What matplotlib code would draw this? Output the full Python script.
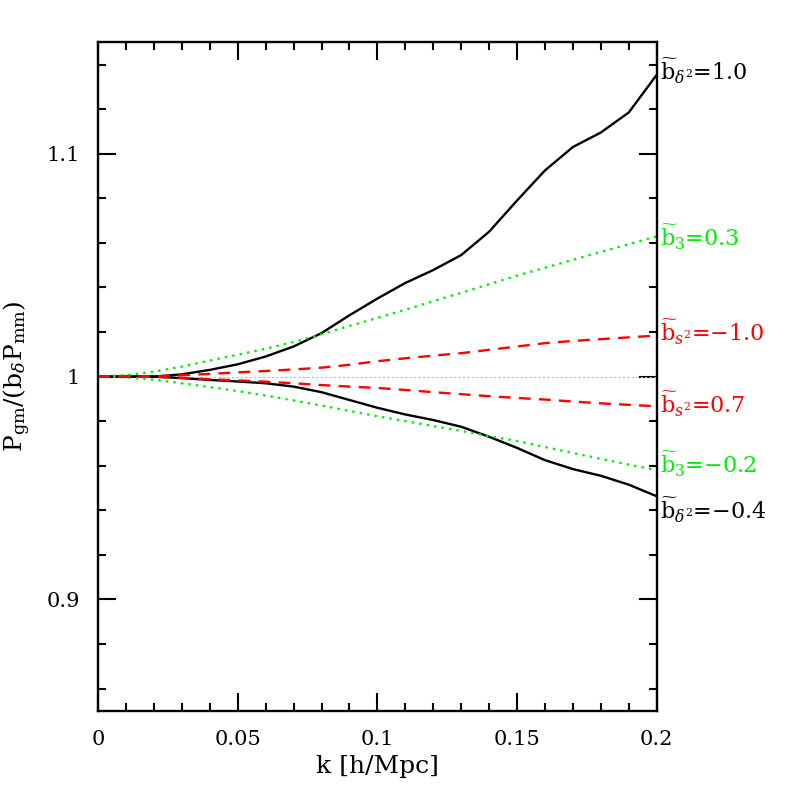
import numpy as np
import matplotlib
matplotlib.use('Agg')
import matplotlib.pyplot as plt
from matplotlib.ticker import MultipleLocator, FuncFormatter

plt.rcParams['font.family'] = 'DejaVu Serif'
plt.rcParams['mathtext.fontset'] = 'dejavuserif'

# k values and ratio curves
k = [0.0, 0.01, 0.02, 0.03, 0.04, 0.05, 0.06, 0.07, 0.08, 0.09, 0.10,
     0.11, 0.12, 0.13, 0.14, 0.15, 0.16, 0.17, 0.18, 0.19, 0.20]

bd2_hi = [1.0, 1.0, 1.0, 1.001, 1.003, 1.0055, 1.009, 1.0135, 1.0195, 1.0275, 1.035,
          1.042, 1.0478, 1.0545, 1.0650, 1.0790, 1.0925, 1.1030, 1.1095, 1.1185, 1.1354]
bd2_lo = [1.0, 1.0, 1.0, 0.9993, 0.9985, 0.9978, 0.9970, 0.9955, 0.993, 0.9895, 0.986,
          0.983, 0.9805, 0.9775, 0.973, 0.968, 0.9625, 0.9585, 0.9555, 0.9515, 0.9463]
b3_hi = [1.0, 1.0006, 1.0022, 1.0045, 1.0072, 1.0098, 1.0125, 1.0155, 1.0190, 1.0227, 1.0263,
         1.030, 1.0338, 1.0376, 1.0414, 1.0453, 1.0488, 1.0524, 1.0559, 1.0594, 1.0629]
b3_lo = [1.0, 0.9997, 0.9986, 0.9970, 0.9953, 0.9935, 0.9915, 0.9893, 0.9870, 0.9846, 0.9822,
         0.9800, 0.9778, 0.9756, 0.9733, 0.9711, 0.9684, 0.9657, 0.9631, 0.9605, 0.958]
bs2_hi = [1.0, 1.0, 1.0001, 1.0006, 1.0012, 1.0019, 1.0025, 1.0032, 1.0040, 1.0053, 1.0069,
          1.0082, 1.0094, 1.0105, 1.0120, 1.0135, 1.0150, 1.0160, 1.0168, 1.0176, 1.0184]
bs2_lo = [1.0, 1.0, 0.9999, 0.9994, 0.9988, 0.9983, 0.9977, 0.9970, 0.9962, 0.9955, 0.9949,
          0.9940, 0.9930, 0.9921, 0.9912, 0.9904, 0.9897, 0.9888, 0.9880, 0.9873, 0.9867]

labels = [r'$\widetilde{\mathrm{b}}_{\delta^2}$=1.0', r'$\widetilde{\mathrm{b}}_{3}$=0.3',
          r'$\widetilde{\mathrm{b}}_{s^2}$=$-$1.0', r'$\widetilde{\mathrm{b}}_{s^2}$=0.7',
          r'$\widetilde{\mathrm{b}}_{3}$=$-$0.2', r'$\widetilde{\mathrm{b}}_{\delta^2}$=$-$0.4']
label_y = [1.1368, 1.0623, 1.0197, 0.9874, 0.9605, 0.940]
label_colors = ['black', '#00ee00', 'red', 'red', '#00ee00', 'black']

fig = plt.figure(figsize=(7.97, 7.97), dpi=100)
ax = fig.add_axes([0.123, 0.108, 0.701, 0.839])

ax.axhline(1.0, color='#66dddd', lw=0.8, ls=(0, (2, 2)))
ax.plot(k, bd2_hi, color='black', lw=1.7)
ax.plot(k, bd2_lo, color='black', lw=1.7)
ax.plot(k, b3_hi, color='#00ee00', lw=1.7, ls=(0, (1, 2.2)))
ax.plot(k, b3_lo, color='#00ee00', lw=1.7, ls=(0, (1, 2.2)))
ax.plot(k, bs2_hi, color='red', lw=1.7, ls=(0, (5, 3.5)))
ax.plot(k, bs2_lo, color='red', lw=1.7, ls=(0, (5, 3.5)))

for lab, yy, c in zip(labels, label_y, label_colors):
    ax.text(1.005, yy, lab, color=c, fontsize=16, va='center', ha='left',
            transform=ax.get_yaxis_transform())

ax.set_xlim(0, 0.2)
ax.set_ylim(0.85, 1.15)
ax.xaxis.set_major_locator(MultipleLocator(0.05))
ax.xaxis.set_minor_locator(MultipleLocator(0.01))
ax.yaxis.set_major_locator(MultipleLocator(0.1))
ax.yaxis.set_minor_locator(MultipleLocator(0.02))
fmt = FuncFormatter(lambda v, p: '%g' % round(v, 4))
ax.xaxis.set_major_formatter(fmt)
ax.yaxis.set_major_formatter(fmt)
ax.tick_params(which='both', direction='in', top=True, right=True, width=1.5,
               labelsize=15)
ax.tick_params(axis='x', pad=14)
ax.tick_params(axis='y', pad=13)
ax.tick_params(which='major', length=13)
ax.tick_params(which='minor', length=6)
for s in ax.spines.values():
    s.set_linewidth(1.7)

ax.set_xlabel('k [h/Mpc]', fontsize=18, labelpad=4)
ax.set_ylabel(r'P$_{\mathrm{gm}}$/(b$_{\delta}$P$_{\mathrm{mm}}$)', fontsize=18, labelpad=10)

fig.savefig('out.png', dpi=100)
